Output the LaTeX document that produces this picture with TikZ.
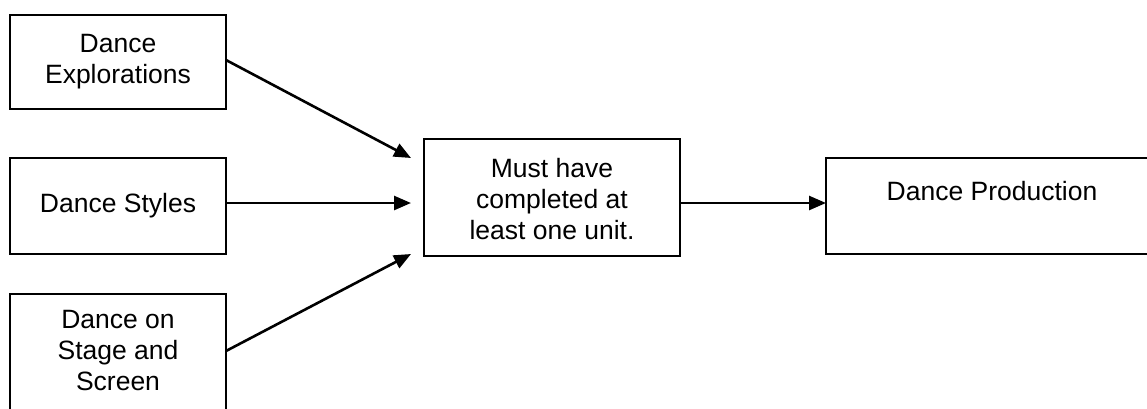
\documentclass[tikz,border=0pt]{standalone}
\usepackage{fontspec}
\setmainfont{Liberation Sans}
\usetikzlibrary{arrows.meta}
\begin{document}
\begin{tikzpicture}[x=1pt,y=-1pt,
  box/.style={draw=black, line width=2.6pt, rectangle, inner sep=0pt},
  lbl/.style={inner sep=0pt, align=center, font=\fontsize{26.5}{31}\selectfont},
  conn/.style={line width=2.6pt, -{Triangle[length=17pt,width=14pt]}}]
\useasboundingbox (0,0) rectangle (1147,408);
% boxes
\node[box, minimum width=216pt, minimum height=94pt] (b1) at (118,62) {};
\node[box, minimum width=216pt, minimum height=96pt] (b2) at (118,206) {};
\node[box, minimum width=216pt, minimum height=130pt] (b3) at (118,359) {};
\node[box, minimum width=256pt, minimum height=117pt] (mid) at (552,197.5) {};
\node[box, minimum width=330pt, minimum height=96pt] (prod) at (991,206) {};
% texts
\node[lbl] (t1) at (b1.center) {Dance\\Explorations};
\node[lbl] (t2) at (b2.center) {Dance Styles};
\node[lbl, anchor=north] (t3) at (118,310) {Dance on\\Stage and\\Screen};
\node[lbl] (tm) at (552,199) {Must have\\completed at\\least one unit.};
\node[lbl, anchor=north] (tp) at (992,181) {Dance Production};
% arrow end points
\coordinate (e1) at (411,158);
\coordinate (e2) at (411,203);
\coordinate (e3) at (411,254);
\coordinate (s1) at (226,60);
\coordinate (s2) at (226,203);
\coordinate (s3) at (226,351);
\coordinate (s4) at (680,203);
\coordinate (e4) at (826,203);
\draw[conn] (s1) -- (e1);
\draw[conn] (s2) -- (e2);
\draw[conn] (s3) -- (e3);
\draw[conn] (s4) -- (e4);
\end{tikzpicture}
\end{document}
